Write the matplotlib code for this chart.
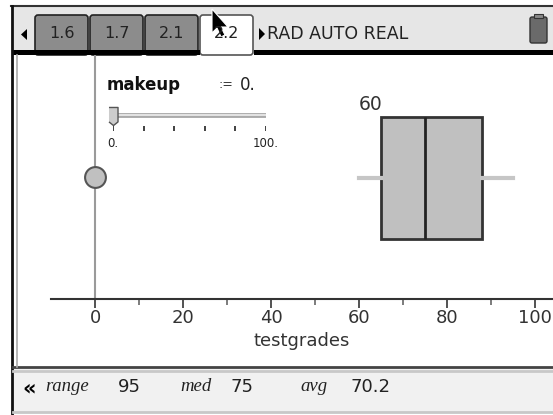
import matplotlib
matplotlib.use('Agg')
import matplotlib.pyplot as plt
from matplotlib.patches import Rectangle, Polygon, FancyBboxPatch

# data
makeup = 0
slider_min, slider_max = 0, 100
slider_ticks = [0, 20, 40, 60, 80, 100]
box_min, box_q1, box_med, box_q3, box_max = 60, 65, 75, 88, 95
axis_ticks = [0, 20, 40, 60, 80, 100]
minor_ticks = [10, 30, 50, 70, 90]
axis_name = 'testgrades'
tab_names = ['1.6', '1.7', '2.1', '2.2']
status_items = [('range', '95'), ('med', '75'), ('avg', '70.2')]

W, H = 553, 415
fig = plt.figure(figsize=(W / 100, H / 100), dpi=100)
fig.patch.set_facecolor('white')

# screen chrome drawn in pixel coordinates
bg = fig.add_axes([0, 0, 1, 1])
bg.set_xlim(0, W)
bg.set_ylim(H, 0)
bg.axis('off')

bg.add_patch(Rectangle((11, 6), W - 11, 44, fc='#e6e6e6', ec='none'))
bg.plot([11, W], [6, 6], color='#333333', lw=1.5)
bg.plot([12, 12], [6, H], color='#111111', lw=2)
# tabs
tab_x = [35, 90, 145, 200]
for i, name in enumerate(tab_names):
    active = i == len(tab_names) - 1
    bg.add_patch(FancyBboxPatch((tab_x[i], 15), 53, 40,
                                boxstyle='round,pad=0,rounding_size=3',
                                fc='white' if active else '#8c8c8c',
                                ec='#555555' if active else '#222222', lw=1.2))
    bg.text(tab_x[i] + 27, 34, name, ha='center', va='center', fontsize=11.5,
            color='#222222')
bg.add_patch(Polygon([[27, 29], [27, 40], [21, 34.5]], closed=True, fc='black'))
bg.add_patch(Rectangle((13, 50), tab_x[-1] - 13, 5, fc='black', ec='none'))
bg.add_patch(Rectangle((tab_x[-1] + 54, 50), W - tab_x[-1] - 54, 5, fc='black', ec='none'))
bg.add_patch(Polygon([[259, 28], [259, 40], [265, 34]], closed=True, fc='black'))
bg.text(267, 34, 'RAD AUTO REAL', ha='left', va='center', fontsize=12.5, color='#222222')
# battery
bg.add_patch(FancyBboxPatch((530, 17), 17, 26, boxstyle='round,pad=0,rounding_size=2',
                            fc='#6a6a6a', ec='#333333', lw=1))
bg.add_patch(Rectangle((534, 14), 9, 4, fc='#888888', ec='#333333', lw=0.8))
# mouse pointer
bg.add_patch(Polygon([[212, 9], [212, 33], [217, 28], [221, 37], [225, 35],
                      [221, 27], [228, 27]], closed=True, fc='black', ec='white', lw=0.8))

# status line
bg.add_patch(Rectangle((13, 367), W - 13, 46, fc='#f1f1f1', ec='none'))
bg.plot([13, W], [367, 367], color='#444444', lw=2)
bg.plot([13, W], [371, 371], color='#c8c8c8', lw=2)
bg.plot([13, W], [412, 412], color='#c8c8c8', lw=2)
bg.text(22, 388, '«', ha='left', va='center', fontsize=15, fontweight='bold', color='black')
label_x = [45, 180, 300]
for (name, val), x in zip(status_items, label_x):
    bg.text(x, 386, name, ha='left', va='center', fontsize=13.5, style='italic',
            family='Liberation Serif', color='#222222')
    bg.text(x + 73 if name == 'range' else x + 50, 387, val, ha='left',
            va='center', fontsize=13, color='#222222')

# graph area, x scale 4.4 px per unit with 0 at x=95
px, x0 = 4.4, 95
left, top, bottom = 19, 55, 367
ax = fig.add_axes([left / W, (H - bottom) / H, (W - left) / W, (bottom - top) / H])
ax.set_xlim((left - x0) / px, (W - x0) / px)
ax.set_ylim(bottom, top)
ax.patch.set_visible(False)
bg.plot([17, 17], [55, 367], color='#aaaaaa', lw=1.2)

axis_y = 299
ax.vlines(makeup, top, axis_y, color='#9a9a9a', lw=1.5)
ax.plot([makeup], [177], 'o', ms=15, mfc='#c0c0c0', mec='#555555', mew=1.5, zorder=5)

stats = [dict(whislo=box_min, q1=box_q1, med=box_med, q3=box_q3, whishi=box_max, fliers=[])]
ax.bxp(stats, positions=[178], widths=[121], orientation='horizontal', patch_artist=True,
       showcaps=False, showfliers=False, manage_ticks=False,
       boxprops=dict(facecolor='#c0c0c0', edgecolor='#333333', lw=2),
       medianprops=dict(color='#222222', lw=2),
       whiskerprops=dict(color='#c6c6c6', lw=3))
ax.text(box_min, 104, str(box_min), ha='left', va='center', fontsize=13.5, color='#333333')

for s in ['left', 'right', 'top']:
    ax.spines[s].set_visible(False)
ax.spines['bottom'].set_position(('data', axis_y))
ax.spines['bottom'].set_bounds(-10, (W - x0) / px)
ax.spines['bottom'].set_color('#333333')
ax.spines['bottom'].set_linewidth(1.5)
ax.set_xticks(axis_ticks)
ax.set_xticks(minor_ticks, minor=True)
ax.tick_params(axis='x', which='major', direction='out', length=6.5, width=1.3,
               color='#444444', labelsize=13, labelcolor='#333333', pad=1)
ax.tick_params(axis='x', which='minor', direction='out', length=4, width=1.2, color='#666666')
ax.set_yticks([])
ax.text((-10 + (W - x0) / px) / 2, 341, axis_name, ha='center', va='center',
        fontsize=13, color='#333333')

# slider widget for makeup
bg.text(107, 85, 'makeup', ha='left', va='center', fontsize=12, fontweight='bold',
        color='#111111')
bg.text(218, 84, ':=', ha='left', va='center', fontsize=9, color='#333333')
bg.text(240, 85, str(float(makeup)).rstrip('0'), ha='left', va='center', fontsize=12,
        color='#222222')
sl = fig.add_axes([113 / W, (H - 150) / H, (266 - 113) / W, 45 / H])
sl.set_xlim(slider_min, slider_max)
sl.set_ylim(150, 105)
sl.axis('off')
sl.plot([slider_min, slider_max], [115, 115], color='#aaaaaa', lw=3.5, solid_capstyle='round')
sl.plot([slider_min, slider_max], [115, 115], color='#eeeeee', lw=1.2)
sl.vlines(slider_ticks, 126, 131, color='#333333', lw=1.3)
thumb = [(-0.5, 1), (0.5, 1), (0.5, -0.6), (0, -1), (-0.5, -0.6)]
sl.plot([makeup], [116], marker=thumb, ms=13, mfc='#cccccc', mec='#555555', mew=1,
        clip_on=False, zorder=5)
sl.text(slider_min, 143, '%g.' % slider_min, ha='center', va='center', fontsize=8.5, color='#222222')
sl.text(slider_max, 143, '%g.' % slider_max, ha='center', va='center', fontsize=8.5, color='#222222')

fig.savefig('out.png', dpi=100)
